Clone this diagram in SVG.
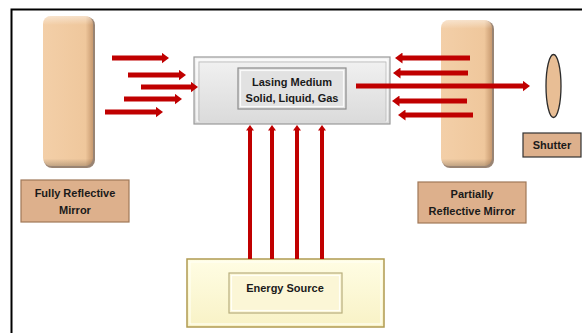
<svg xmlns="http://www.w3.org/2000/svg" width="582" height="333" viewBox="0 0 582 333">
<style>
.lbl{font-family:"Liberation Sans",Arial,sans-serif;font-weight:bold;font-size:11px;fill:#1a1a1a;text-anchor:middle}
.tan{fill:#DDB08C;stroke:#A07858;stroke-width:1.2}
.arr{stroke:#C00000;stroke-width:5;fill:none}
.varr{stroke:#C00000;stroke-width:4;fill:none}
</style>
<defs>
<marker id="ah" markerUnits="userSpaceOnUse" markerWidth="8" markerHeight="11" refX="0.5" refY="5.5" orient="auto">
<path d="M0,0 L7.5,5.5 L0,11 z" fill="#C00000"/>
</marker>
<marker id="vh" markerUnits="userSpaceOnUse" markerWidth="6" markerHeight="8" refX="0.5" refY="4" orient="auto">
<path d="M0,0 L5.5,4 L0,8 z" fill="#C00000"/>
</marker>
<linearGradient id="mir" x1="0" y1="0" x2="1" y2="0">
<stop offset="0" stop-color="#F3CFA8"/>
<stop offset="0.85" stop-color="#EFC79C"/>
<stop offset="1" stop-color="#C89A70"/>
</linearGradient>
<linearGradient id="mirtop" x1="0" y1="0" x2="0" y2="1">
<stop offset="0" stop-color="#FFF" stop-opacity="0.45"/>
<stop offset="0.06" stop-color="#FFF" stop-opacity="0"/>
<stop offset="0.95" stop-color="#000" stop-opacity="0"/>
<stop offset="1" stop-color="#000" stop-opacity="0.2"/>
</linearGradient>
<linearGradient id="grey" x1="0" y1="0" x2="0" y2="1">
<stop offset="0" stop-color="#F2F2F2"/>
<stop offset="1" stop-color="#DADADA"/>
</linearGradient>
<linearGradient id="yel" x1="0" y1="0" x2="0" y2="1">
<stop offset="0" stop-color="#FFFDE4"/>
<stop offset="1" stop-color="#F8F2C6"/>
</linearGradient>
</defs>
<rect x="0" y="0" width="582" height="333" fill="#FFFFFF"/>
<rect x="11.5" y="9.5" width="620" height="400" fill="none" stroke="#000" stroke-width="2"/>

<g id="left-mirror">
<rect x="44" y="17" width="51" height="151" rx="8" fill="#6E5038" opacity="0.7"/>
<rect x="43" y="16" width="50" height="150" rx="8" fill="url(#mir)"/>
<rect x="43" y="16" width="50" height="150" rx="8" fill="url(#mirtop)"/>
</g>
<g id="left-label">
<rect class="tan" x="21" y="180" width="108" height="42"/>
<text class="lbl" x="75" y="197">Fully Reflective</text>
<text class="lbl" x="75" y="214">Mirror</text>
</g>

<g id="right-mirror">
<rect x="442" y="21" width="52" height="147" rx="8" fill="#6E5038" opacity="0.7"/>
<rect x="441" y="20" width="51" height="146" rx="8" fill="url(#mir)"/>
<rect x="441" y="20" width="51" height="146" rx="8" fill="url(#mirtop)"/>
</g>
<g id="right-label">
<rect class="tan" x="418" y="182" width="108" height="41"/>
<text class="lbl" x="472" y="198">Partially</text>
<text class="lbl" x="472" y="215">Reflective Mirror</text>
</g>

<g id="lasing-medium">
<rect x="194" y="57" width="196" height="67" fill="url(#grey)" stroke="#9A9A9A" stroke-width="1.2"/>
<rect x="197" y="60" width="190" height="61" fill="none" stroke="#FFFFFF" stroke-width="1.2"/>
<rect x="199" y="62" width="187" height="59" fill="none" stroke="#B8B8B8" stroke-width="0.8"/>
<rect x="238" y="68" width="108" height="41" fill="#E2E2E2" stroke="#8C8C8C" stroke-width="1.2"/>
<rect x="240.5" y="70.5" width="103" height="36" fill="none" stroke="#FAFAFA" stroke-width="1.2"/>
<text class="lbl" x="292" y="86">Lasing Medium</text>
<text class="lbl" x="292" y="102">Solid, Liquid, Gas</text>
</g>

<g id="energy-source">
<rect x="187" y="259" width="197" height="68" fill="url(#yel)" stroke="#B09A50" stroke-width="1.5"/>
<rect x="190" y="262" width="191" height="62" fill="none" stroke="#FFFFF4" stroke-width="1.2"/>
<rect x="229" y="273" width="113" height="40" fill="#FBF6D6" stroke="#B8AE7C" stroke-width="1.2"/>
<rect x="231.5" y="275.5" width="108" height="35" fill="none" stroke="#FFFFF6" stroke-width="1.2"/>
<text class="lbl" x="285" y="292">Energy Source</text>
</g>

<g id="lens">
<ellipse cx="553.5" cy="86" rx="7.5" ry="31.5" fill="#E8BE95" stroke="#2B2B2B" stroke-width="1.3"/>
</g>
<g id="shutter">
<rect x="523" y="133" width="58" height="24" fill="#DDB08C" stroke="#333" stroke-width="1.2"/>
<text class="lbl" x="552" y="149">Shutter</text>
</g>

<g id="connectors">
<line class="arr" x1="112" y1="58" x2="162" y2="58" marker-end="url(#ah)"/>
<line class="arr" x1="128" y1="75" x2="179" y2="75" marker-end="url(#ah)"/>
<line class="arr" x1="141" y1="87" x2="191" y2="87" marker-end="url(#ah)"/>
<line class="arr" x1="124" y1="99" x2="175" y2="99" marker-end="url(#ah)"/>
<line class="arr" x1="105" y1="112" x2="156" y2="112" marker-end="url(#ah)"/>

<line class="arr" x1="470" y1="58" x2="402" y2="58" marker-end="url(#ah)"/>
<line class="arr" x1="468" y1="73" x2="400" y2="73" marker-end="url(#ah)"/>
<line class="arr" x1="467" y1="101" x2="399" y2="101" marker-end="url(#ah)"/>
<line class="arr" x1="473" y1="115" x2="405" y2="115" marker-end="url(#ah)"/>

<line class="arr" x1="356" y1="86" x2="523" y2="86" marker-end="url(#ah)"/>

<line class="varr" x1="250" y1="259" x2="250" y2="130" marker-end="url(#vh)"/>
<line class="varr" x1="272" y1="259" x2="272" y2="130" marker-end="url(#vh)"/>
<line class="varr" x1="297" y1="259" x2="297" y2="130" marker-end="url(#vh)"/>
<line class="varr" x1="322" y1="259" x2="322" y2="130" marker-end="url(#vh)"/>
</g>
</svg>
